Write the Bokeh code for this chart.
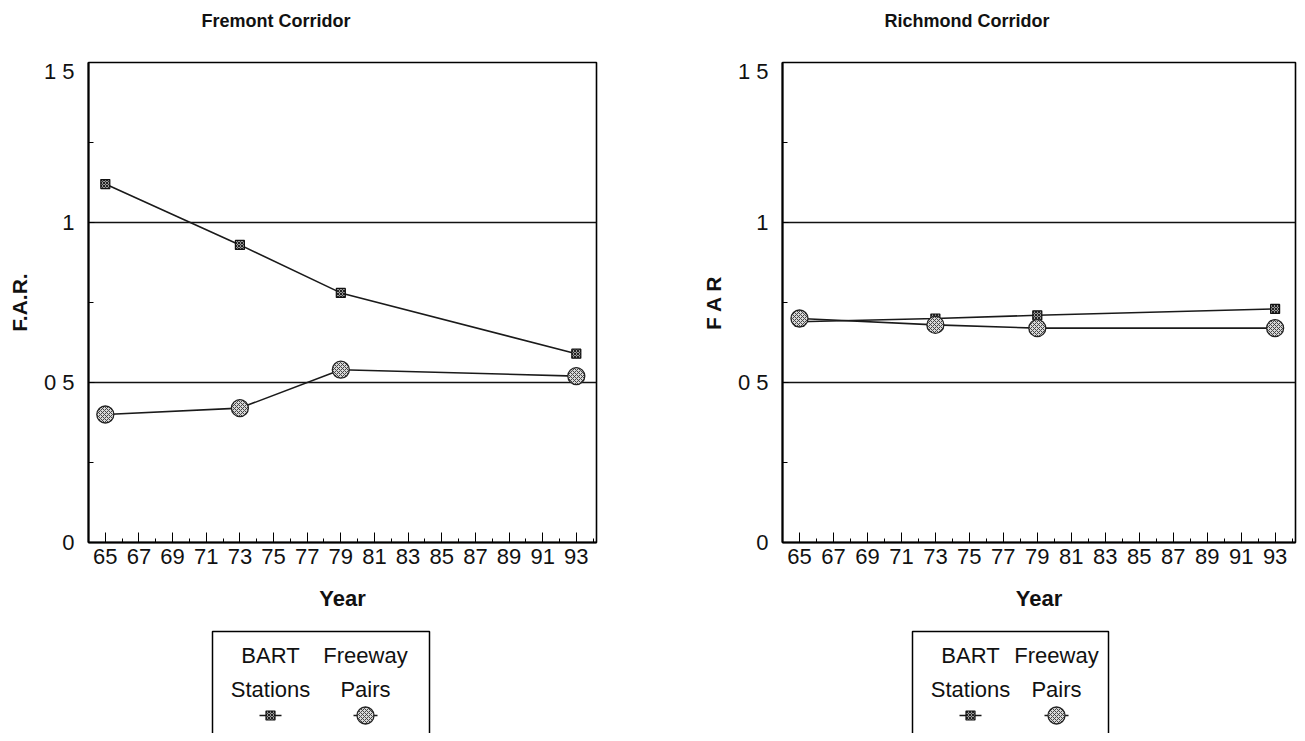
from bokeh.plotting import figure
from bokeh.layouts import column, row
from bokeh.models import Range1d, FixedTicker
from bokeh.embed import file_html
from bokeh.resources import INLINE
from bokeh.core.properties import value

# ---------------- data ----------------
years = [65, 73, 79, 93]
fremont_bart = [1.12, 0.93, 0.78, 0.59]
fremont_freeway = [0.40, 0.42, 0.54, 0.52]
richmond_bart = [0.69, 0.70, 0.71, 0.73]
richmond_freeway = [0.70, 0.68, 0.67, 0.67]

major_years = list(range(65, 94, 2))
minor_years = list(range(64, 95, 2))
y_ticks = [0, 0.5, 1, 1.5]
y_minor = [0.25, 0.75, 1.25]
y_tick_labels = {0: "0", 0.5: "0 5", 1: "1", 1.5: "1 5"}
grid_values = [0.5, 1.0]
legend_top = ["BART", "Freeway"]
legend_bottom = ["Stations", "Pairs"]
titles = ["Fremont Corridor", "Richmond Corridor"]

FONT = value("Liberation Sans")
FONT_NAME = "Liberation Sans"


def blank_fig(width, h):
    f = figure(width=width, height=h, output_backend="svg", toolbar_location=None,
               tools="", x_range=Range1d(0, width), y_range=Range1d(h, 0),
               min_border=0, x_axis_location=None, y_axis_location=None)
    f.outline_line_color = None
    f.grid.visible = False
    return f


def title_fig(width, text, x):
    f = blank_fig(width, 58)
    f.text(x=[x], y=[20], text=[text], text_align="left", text_baseline="middle",
           text_font=FONT, text_font_size="18px", text_font_style="bold",
           text_color="#111")
    return f


def panel(ylabel, bart, freeway, border_left, frame_width, border_right):
    p = figure(frame_width=frame_width, frame_height=480,
               output_backend="svg", toolbar_location=None, tools="",
               x_range=Range1d(64, 94.2), y_range=Range1d(0, 1.5),
               min_border_left=border_left, min_border_right=border_right,
               min_border_top=4, min_border_bottom=78)

    p.outline_line_color = "black"
    p.outline_line_width = 1.6
    p.outline_line_alpha = 1

    xa = p.xaxis[0]
    xa.ticker = FixedTicker(ticks=major_years, minor_ticks=minor_years)
    xa.major_tick_in = 10
    xa.major_tick_out = 0
    xa.minor_tick_in = 4
    xa.minor_tick_out = 0
    xa.axis_line_width = 2
    xa.axis_line_color = "black"
    xa.major_tick_line_color = "black"
    xa.minor_tick_line_color = "black"
    xa.major_label_text_font = FONT_NAME
    xa.major_label_text_font_size = "22px"
    xa.major_label_text_color = "#111"
    xa.major_label_standoff = 6
    xa.axis_label = "Year"
    xa.axis_label_text_font = FONT_NAME
    xa.axis_label_text_font_size = "22px"
    xa.axis_label_text_font_style = "bold"
    xa.axis_label_text_color = "#111"
    xa.axis_label_standoff = 19

    ya = p.yaxis[0]
    ya.ticker = FixedTicker(ticks=y_ticks, minor_ticks=y_minor)
    ya.major_label_overrides = y_tick_labels
    ya.major_tick_in = 6
    ya.major_tick_out = 0
    ya.minor_tick_in = 5
    ya.minor_tick_out = 0
    ya.axis_line_width = 2
    ya.axis_line_color = "black"
    ya.major_label_text_font = FONT_NAME
    ya.major_label_text_font_size = "22px"
    ya.major_label_text_color = "#111"
    ya.major_label_standoff = 14
    ya.axis_label = ylabel
    ya.axis_label_text_font = FONT_NAME
    ya.axis_label_text_font_size = "21px"
    ya.axis_label_text_font_style = "bold"
    ya.axis_label_text_color = "#111"
    ya.axis_label_standoff = 10

    p.xgrid.visible = False
    p.ygrid.ticker = FixedTicker(ticks=grid_values)
    p.ygrid.grid_line_color = "#111"
    p.ygrid.grid_line_width = 1.4

    p.line(years, bart, line_color="#1a1a1a", line_width=1.6)
    p.scatter(years, bart, marker="square", size=9, fill_color="#9a9a9a",
              line_color="#111", line_width=1.2, hatch_pattern="diagonal_cross",
              hatch_color="#222", hatch_scale=3, hatch_weight=1)
    p.line(years, freeway, line_color="#1a1a1a", line_width=1.6)
    p.scatter(years, freeway, marker="circle", size=17, fill_color="#d8d8d8",
              line_color="#222", line_width=1.3, hatch_pattern="diagonal_cross",
              hatch_color="#444", hatch_scale=4, hatch_weight=1)
    return p


def legend_fig(width, box_left, box_width, off1, off2):
    h = 113
    f = blank_fig(width, h)
    top = 11
    right = box_left + box_width
    f.line([box_left, box_left, right, right], [h + 10, top, top, h + 10],
           line_color="black", line_width=1.5)
    c1 = box_left + off1
    c2 = box_left + off2
    f.text(x=[c1, c2], y=[35, 35], text=legend_top, text_align="center",
           text_baseline="middle", text_font=FONT, text_font_size="22px", text_color="#111")
    f.text(x=[c1, c2], y=[69, 69], text=legend_bottom, text_align="center",
           text_baseline="middle", text_font=FONT, text_font_size="22px", text_color="#111")
    my = 95
    f.line([c1 - 11, c1 + 11], [my, my], line_color="#1a1a1a", line_width=1.6)
    f.scatter([c1], [my], marker="square", size=9, fill_color="#9a9a9a",
              line_color="#111", line_width=1.2, hatch_pattern="diagonal_cross",
              hatch_color="#222", hatch_scale=3, hatch_weight=1)
    f.line([c2 - 12, c2 + 12], [my, my], line_color="#1a1a1a", line_width=1.6)
    f.scatter([c2], [my], marker="circle", size=17, fill_color="#d8d8d8",
              line_color="#222", line_width=1.3, hatch_pattern="diagonal_cross",
              hatch_color="#444", hatch_scale=4, hatch_weight=1)
    return f


tL = title_fig(668, titles[0], 201)
tR = title_fig(629, titles[1], 216)
pL = panel("F.A.R.", fremont_bart, fremont_freeway, 88, 508, 72)
pR = panel("F A R", richmond_bart, richmond_freeway, 114, 513, 2)
lL = legend_fig(668, 212, 217, 58, 153)
lR = legend_fig(629, 244, 196, 58, 144)

layout = column(row(tL, tR), row(pL, pR), row(lL, lR))
open("out.html", "w").write(file_html(layout, INLINE))
